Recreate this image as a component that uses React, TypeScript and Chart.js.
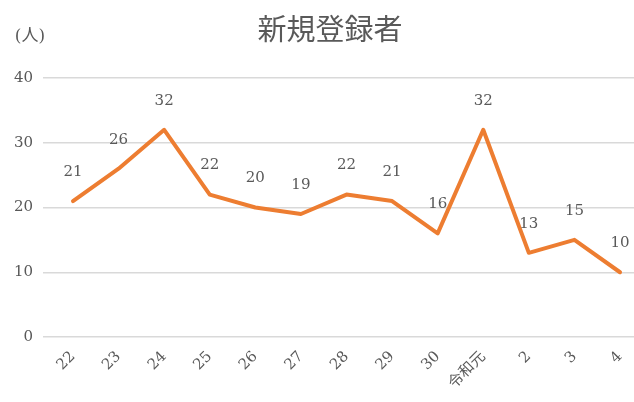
import React, { useEffect, useRef } from "react";
import { Chart, registerables } from "chart.js";

Chart.register(...registerables);

const categories = ["22", "23", "24", "25", "26", "27", "28", "29", "30", "令和元", "2", "3", "4"];
const registrants = [21, 26, 32, 22, 20, 19, 22, 21, 16, 32, 13, 15, 10];
const yTicks = [0, 10, 20, 30, 40];
const chartTitle = "新規登録者";
const unitLabel = "(人)";

const FONT = "'Noto Sans CJK JP', 'Noto Sans', sans-serif";
const NUMFONT = "'DejaVu Serif', 'Noto Sans CJK JP', serif";
const TEXT = "#595959";

const overlay = {
  id: "overlay",
  afterDatasetsDraw(chart: any) {
    const ctx = chart.ctx;
    ctx.save();
    ctx.fillStyle = TEXT;
    ctx.textAlign = "center";
    ctx.textBaseline = "middle";
    ctx.font = `29px ${FONT}`;
    ctx.fillText(chartTitle, 330, 29);
    ctx.font = `17px ${NUMFONT}`;
    ctx.fillText(unitLabel, 30, 37);
    const meta = chart.getDatasetMeta(0);
    ctx.font = `15px ${NUMFONT}`;
    meta.data.forEach((pt: any, i: number) => {
      ctx.fillText(String(registrants[i]), pt.x, pt.y - 29);
    });
    ctx.restore();
  },
};

export default function App() {
  const ref = useRef<HTMLCanvasElement>(null);
  useEffect(() => {
    document.body.style.margin = "0";
    const chart = new Chart(ref.current!, {
      type: "line",
      data: {
        datasets: [
          {
            data: registrants.map((v, i) => ({ x: i, y: v })),
            borderColor: "#ED7D31",
            backgroundColor: "#ED7D31",
            borderWidth: 4,
            pointRadius: 0,
            tension: 0,
            borderJoinStyle: "round",
            borderCapStyle: "round",
          },
        ],
      },
      options: {
        animation: false,
        responsive: false,
        layout: { padding: { top: 78, right: 0, left: 0, bottom: 0 } },
        plugins: { legend: { display: false }, tooltip: { enabled: false }, title: { display: false } },
        scales: {
          x: {
            type: "linear",
            min: -0.658,
            max: 12.307,
            grid: { display: false, drawTicks: false },
            border: { display: false },
            afterBuildTicks: (s: any) => {
              s.ticks = categories.map((_, i) => ({ value: i }));
            },
            afterFit: (s: any) => {
              s.height = 65;
              s.paddingLeft = 0;
              s.paddingRight = 0;
            },
            ticks: {
              autoSkip: false,
              minRotation: 45,
              maxRotation: 45,
              padding: 11,
              color: TEXT,
              font: { family: NUMFONT, size: 15 },
              callback: (v: any) => categories[v] ?? "",
            },
          },
          y: {
            min: 0,
            max: 40,
            afterBuildTicks: (s: any) => {
              s.ticks = yTicks.map((v) => ({ value: v }));
            },
            afterFit: (s: any) => {
              s.width = 43;
              s.paddingTop = 0;
              s.paddingBottom = 0;
            },
            grid: { color: "#d9d9d9", lineWidth: 1.5, drawTicks: false },
            border: { display: false },
            ticks: {
              padding: 10,
              color: TEXT,
              font: { family: NUMFONT, size: 15 },
            },
          },
        },
      } as any,
      plugins: [overlay],
    });
    return () => chart.destroy();
  }, []);
  return (
    <div style={{ width: 634, height: 402, background: "#fff" }}>
      <canvas ref={ref} width={634} height={402} />
    </div>
  );
}
